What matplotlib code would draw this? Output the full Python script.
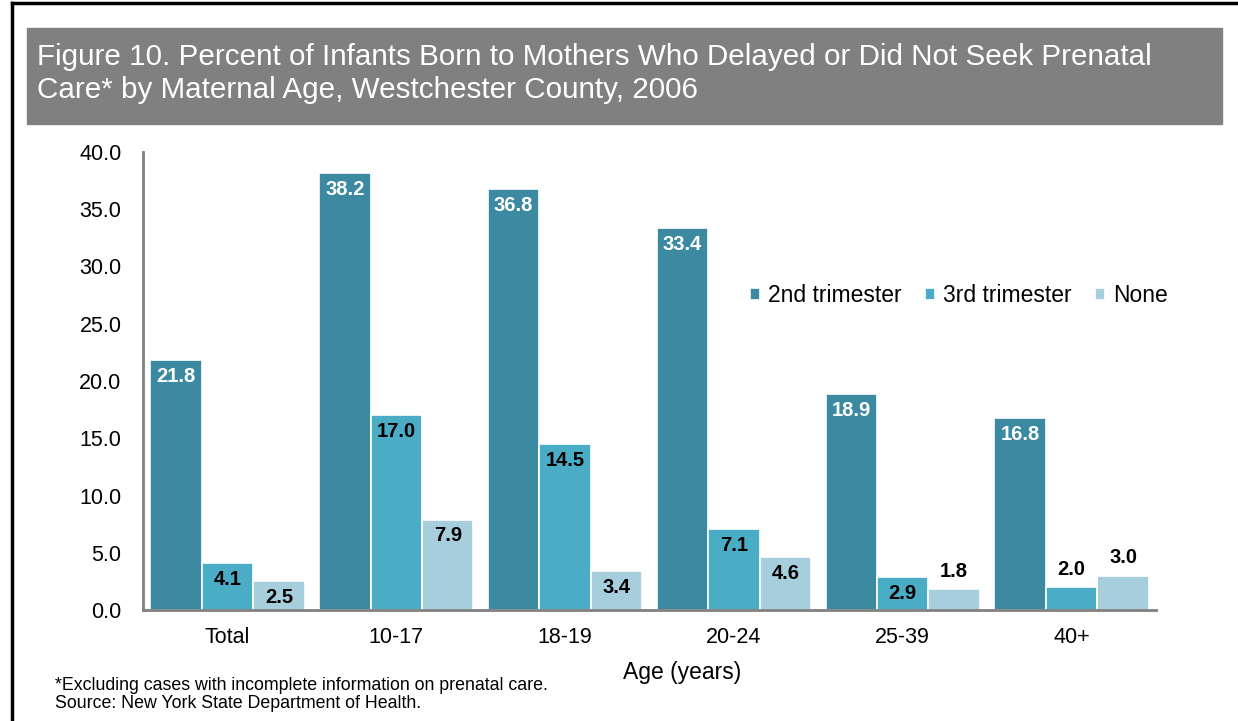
import matplotlib.pyplot as plt
import numpy as np
from matplotlib.patches import Rectangle
from matplotlib.lines import Line2D

plt.rcParams['font.family'] = ['Liberation Sans', 'DejaVu Sans']

# datos
edades = ['Total', '10-17', '18-19', '20-24', '25-39', '40+']
series = ['2nd trimester', '3rd trimester', 'None']
segundo = [21.8, 38.2, 36.8, 33.4, 18.9, 16.8]
tercero = [4.1, 17.0, 14.5, 7.1, 2.9, 2.0]
ninguno = [2.5, 7.9, 3.4, 4.6, 1.8, 3.0]
yticks = [0, 5, 10, 15, 20, 25, 30, 35, 40]

colores = ['#3B8AA1', '#4BACC6', '#A7CEDD']
color_txt = ['white', 'black', 'black']
# etiquetas que van encima de la barra (serie, grupo)
fuera = {(2, 4), (1, 5), (2, 5)}

fig = plt.figure(figsize=(12.38, 7.21), dpi=100)

# marco
fig.add_artist(Line2D([12 / 1238, 1], [1 - 3 / 721, 1 - 3 / 721],
                      color='black', lw=2.5, transform=fig.transFigure))
fig.add_artist(Line2D([12 / 1238, 12 / 1238], [0, 1 - 3 / 721],
                      color='black', lw=2.5, transform=fig.transFigure))

# cabecera gris
fig.add_artist(Rectangle((27 / 1238, 1 - 124 / 721), (1222 - 27) / 1238,
                         96 / 721, color='#808080', transform=fig.transFigure,
                         zorder=0))
fig.text(37 / 1238, 1 - 57 / 721,
         'Figure 10. Percent of Infants Born to Mothers Who Delayed or Did Not Seek Prenatal',
         color='white', fontsize=21.3, va='center', ha='left')
fig.text(37 / 1238, 1 - 90 / 721,
         'Care* by Maternal Age, Westchester County, 2006',
         color='white', fontsize=21.3, va='center', ha='left')

ax = fig.add_axes([143 / 1238, 111 / 721, 1013 / 1238, 458 / 721])
x = np.arange(len(edades))
w = 0.305
for i, (vals, nombre) in enumerate(zip([segundo, tercero, ninguno], series)):
    pos = x + (i - 1) * w
    ax.bar(pos, vals, width=w, color=colores[i], edgecolor='white',
           linewidth=1.2, label=nombre, zorder=2)
    for j, v in enumerate(vals):
        if (i, j) in fuera:
            ax.annotate(f'{v:.1f}', (pos[j], v), xytext=(0, 6),
                        textcoords='offset points', ha='center', va='bottom',
                        fontsize=14.5, fontweight='bold', color='black')
        else:
            ax.annotate(f'{v:.1f}', (pos[j], v), xytext=(0, -5),
                        textcoords='offset points', ha='center', va='top',
                        fontsize=14.5, fontweight='bold', color=color_txt[i])

ax.set_xlim(-0.5, 5.5)
ax.set_ylim(0, 40)
ax.set_yticks(yticks)
ax.set_yticklabels([f'{t:.1f}' for t in yticks])
ax.set_xticks(x)
ax.set_xticklabels(edades)
ax.tick_params(axis='both', length=0, labelsize=15.5)
ax.tick_params(axis='y', pad=15.5)
ax.tick_params(axis='x', pad=12.5)
for s in ['top', 'right']:
    ax.spines[s].set_visible(False)
for s in ['left', 'bottom']:
    ax.spines[s].set_color('#808080')
    ax.spines[s].set_linewidth(2)

ax.set_xlabel('Age (years)', fontsize=16.5)
ax.xaxis.set_label_coords(0.532, -0.112)

ax.legend(loc='center left', bbox_to_anchor=(0.599, 0.686), ncol=3,
          frameon=False, fontsize=16.5, handlelength=0.45, handleheight=0.45,
          handletextpad=0.35, columnspacing=1.0, borderaxespad=0,
          borderpad=0)

fig.text(55 / 1238, 1 - 686 / 721,
         '*Excluding cases with incomplete information on prenatal care.',
         fontsize=12.8, va='center')
fig.text(55 / 1238, 1 - 703 / 721,
         'Source: New York State Department of Health.',
         fontsize=12.8, va='center')

fig.savefig('out.png', dpi=100)
plt.close('all')
